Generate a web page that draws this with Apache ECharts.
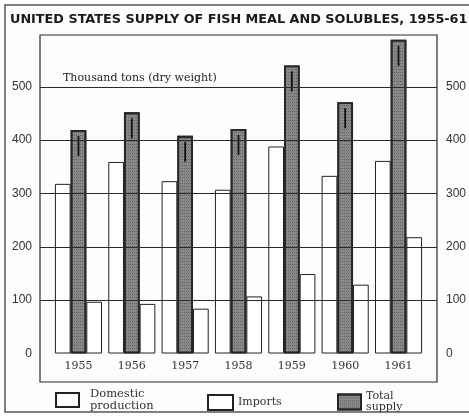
<!DOCTYPE html>
<html>
<head>
<meta charset="utf-8">
<script src="https://cdn.jsdelivr.net/npm/echarts@6/dist/echarts.min.js"></script>
<style>
  html, body { margin: 0; padding: 0; background: #fdfdfd; }
  #chart { width: 469px; height: 416px; }
</style>
</head>
<body>
<div id="chart"></div>
<script>
// Thousand tons (dry weight)
const years = ['1955', '1956', '1957', '1958', '1959', '1960', '1961'];
const domesticProduction = [318, 359, 323, 307, 388, 333, 361];
const totalSupply = [419, 452, 408, 421, 540, 471, 588];
const imports = [97, 93, 84, 107, 149, 129, 218];
const valueTicks = [0, 100, 200, 300, 400, 500];
const gridValues = [100, 200, 300, 400, 500];

const yMin = -53.4, yMax = 597;
const serif = '"DejaVu Serif", serif';
const sans = '"Liberation Sans", Arial, sans-serif';

const chart = echarts.init(document.getElementById('chart'), null, { renderer: 'canvas' });

const hiddenY = {
  min: yMin, max: yMax,
  axisLine: { show: false }, axisTick: { show: false },
  splitLine: { show: false }
};

const totalStyle = {
  color: '#888888', borderColor: '#262626', borderWidth: 1.8,
  decal: { symbol: 'rect', symbolSize: 1, color: 'rgba(30,30,30,0.35)',
    dashArrayX: [1, 1], dashArrayY: [1, 2] }
};

chart.setOption({
  backgroundColor: '#fdfdfd',
  animation: false,
  grid: [
    { left: 40, right: 31, top: 35, bottom: 34, show: true,
      borderColor: '#2a2a2a', borderWidth: 1.2, backgroundColor: 'transparent' },
    { left: 51.8, right: 43.8, top: 35, bottom: 34 }
  ],
  xAxis: [
    { gridIndex: 0, type: 'value', min: 0, max: 1, show: false },
    { gridIndex: 1, type: 'category', data: years,
      axisLine: { show: false }, axisTick: { show: false },
      axisLabel: { margin: -21, fontFamily: serif, fontSize: 11, color: '#333' } }
  ],
  yAxis: [
    Object.assign({ gridIndex: 0, type: 'value', position: 'left',
      axisLabel: { customValues: valueTicks, margin: 8, fontFamily: sans, fontSize: 12, color: '#333' } }, hiddenY),
    Object.assign({ gridIndex: 0, type: 'value', position: 'right',
      axisLabel: { customValues: valueTicks, margin: 9, fontFamily: sans, fontSize: 12, color: '#333' } }, hiddenY),
    Object.assign({ gridIndex: 1, type: 'value', show: false }, hiddenY)
  ],
  legend: [
    { data: ['Domestic production'], left: 55, top: 388, padding: 0,
      itemWidth: 23, itemHeight: 14, icon: 'rect',
      formatter: n => 'Domestic\nproduction',
      textStyle: { fontFamily: serif, fontSize: 11.5, color: '#333', lineHeight: 12, padding: [0, 0, 0, 6] } },
    { data: ['Imports'], left: 207, top: 394, padding: 0,
      itemWidth: 25, itemHeight: 15, icon: 'rect',
      textStyle: { fontFamily: serif, fontSize: 11, color: '#333' } },
    { data: ['Total supply'], left: 337, top: 391, padding: 0,
      itemWidth: 23, itemHeight: 15, icon: 'rect',
      formatter: n => 'Total\nsupply',
      textStyle: { fontFamily: serif, fontSize: 11, color: '#333', lineHeight: 11 } }
  ],
  graphic: [
    { type: 'polyline', silent: true, z: 0,
      shape: { points: [[469, 5], [5, 5], [5, 412], [469, 412]] },
      style: { fill: null, stroke: '#555', lineWidth: 1.5 } },
    { type: 'text', left: 10, top: 13, silent: true,
      style: { text: 'UNITED STATES SUPPLY OF FISH MEAL AND SOLUBLES, 1955-61',
        font: 'bold 12.8px "DejaVu Sans", sans-serif', fill: '#1a1a1a' } },
    { type: 'text', left: 63, top: 73, silent: true,
      style: { text: 'Thousand tons (dry weight)',
        font: '11px ' + serif, fill: '#222' } }
  ],
  series: [
    { name: 'Domestic production', type: 'bar', xAxisIndex: 1, yAxisIndex: 2,
      data: domesticProduction, barWidth: 15.7, barGap: '0%', z: 2,
      itemStyle: { color: '#ffffff', borderColor: '#222', borderWidth: 1 } },
    { name: 'Total supply', type: 'bar', xAxisIndex: 1, yAxisIndex: 2,
      data: totalSupply, barWidth: 15.7, barGap: '0%', z: 2,
      itemStyle: totalStyle },
    { name: 'Imports', type: 'bar', xAxisIndex: 1, yAxisIndex: 2,
      data: imports, barWidth: 15.7, barGap: '0%', z: 2,
      itemStyle: { color: '#ffffff', borderColor: '#222', borderWidth: 1 } },
    // dark streak printed just under the top of each total-supply bar
    { type: 'custom', xAxisIndex: 1, yAxisIndex: 2, data: totalSupply.map((v, i) => [i, v]),
      z: 4, silent: true,
      renderItem: (params, api) => {
        const p = api.coord([api.value(0), api.value(1)]);
        return { type: 'line',
          shape: { x1: p[0], y1: p[1] + 6, x2: p[0], y2: p[1] + 26 },
          style: { stroke: '#111', lineWidth: 1.8 } };
      } },
    { type: 'line', xAxisIndex: 0, yAxisIndex: 0, data: [], z: 5, silent: true,
      markLine: { silent: true, symbol: 'none', label: { show: false },
        lineStyle: { color: '#2a2a2a', width: 1.2, type: 'solid' },
        data: gridValues.map(v => ({ yAxis: v })) } }
  ]
});
</script>
</body>
</html>
